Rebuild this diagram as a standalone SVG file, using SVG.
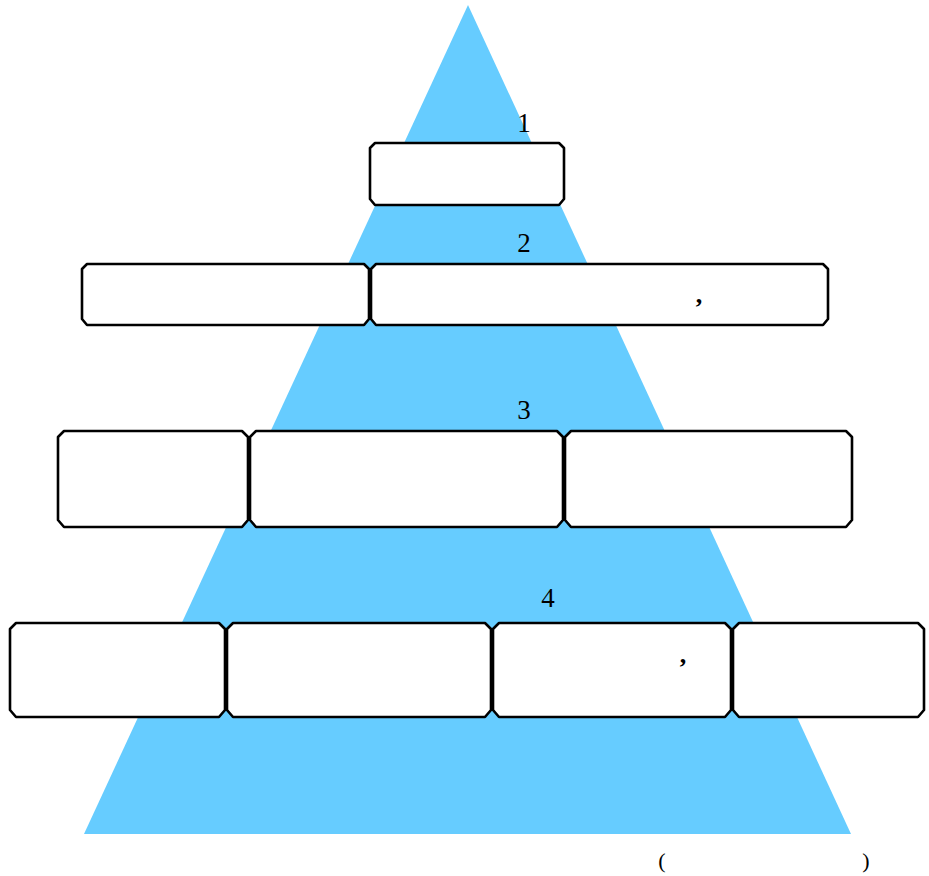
<svg xmlns="http://www.w3.org/2000/svg" width="929" height="876" viewBox="0 0 929 876">
<style>
.box{fill:#ffffff;stroke:#000000;stroke-width:2.6;stroke-linejoin:round}
.t{font-family:"Liberation Serif",serif;font-size:27px;fill:#000000}
.p{font-family:"Liberation Serif",serif;font-size:22px;fill:#000000}
.c{font-family:"Liberation Serif",serif;font-size:26px;font-weight:bold;fill:#000000}
</style>
<rect width="929" height="876" fill="#ffffff"/>
<polygon points="468,5 851,834 84,834" fill="#66CCFF"/>
<g id="connectors"></g>
<g id="level1">
<path class="box" d="M375,143 H559 L564,148 V199 L559,205 H375 L370,199 V148 Z"/>
<text class="t" x="524" y="132" text-anchor="middle">1</text>
</g>
<g id="level2">
<path class="box" d="M87,264 H364 L369,269 V319 L364,325 H87 L82,319 V269 Z"/>
<path class="box" d="M376,264 H823 L828,269 V319 L823,325 H376 L371,319 V269 Z"/>
<text class="t" x="524" y="252" text-anchor="middle">2</text>
<text class="c" x="699" y="303" text-anchor="middle">,</text>
</g>
<g id="level3">
<path class="box" d="M64,431 H242 L248,437 V520 L242,527 H64 L58,520 V437 Z"/>
<path class="box" d="M256,431 H557 L563,437 V520 L557,527 H256 L250,520 V437 Z"/>
<path class="box" d="M571,431 H846 L852,437 V520 L846,527 H571 L565,520 V437 Z"/>
<text class="t" x="524" y="419" text-anchor="middle">3</text>
</g>
<g id="level4">
<path class="box" d="M16,623 H219 L225,629 V710 L219,717 H16 L10,710 V629 Z"/>
<path class="box" d="M233,623 H485 L491,629 V710 L485,717 H233 L227,710 V629 Z"/>
<path class="box" d="M499,623 H725 L731,629 V710 L725,717 H499 L493,710 V629 Z"/>
<path class="box" d="M739,623 H918 L924,629 V710 L918,717 H739 L733,710 V629 Z"/>
<text class="t" x="548" y="607" text-anchor="middle">4</text>
<text class="c" x="683" y="663" text-anchor="middle">,</text>
</g>
<g id="note">
<text class="p" x="662" y="868" text-anchor="middle">(</text>
<text class="p" x="866" y="868" text-anchor="middle">)</text>
</g>
</svg>
